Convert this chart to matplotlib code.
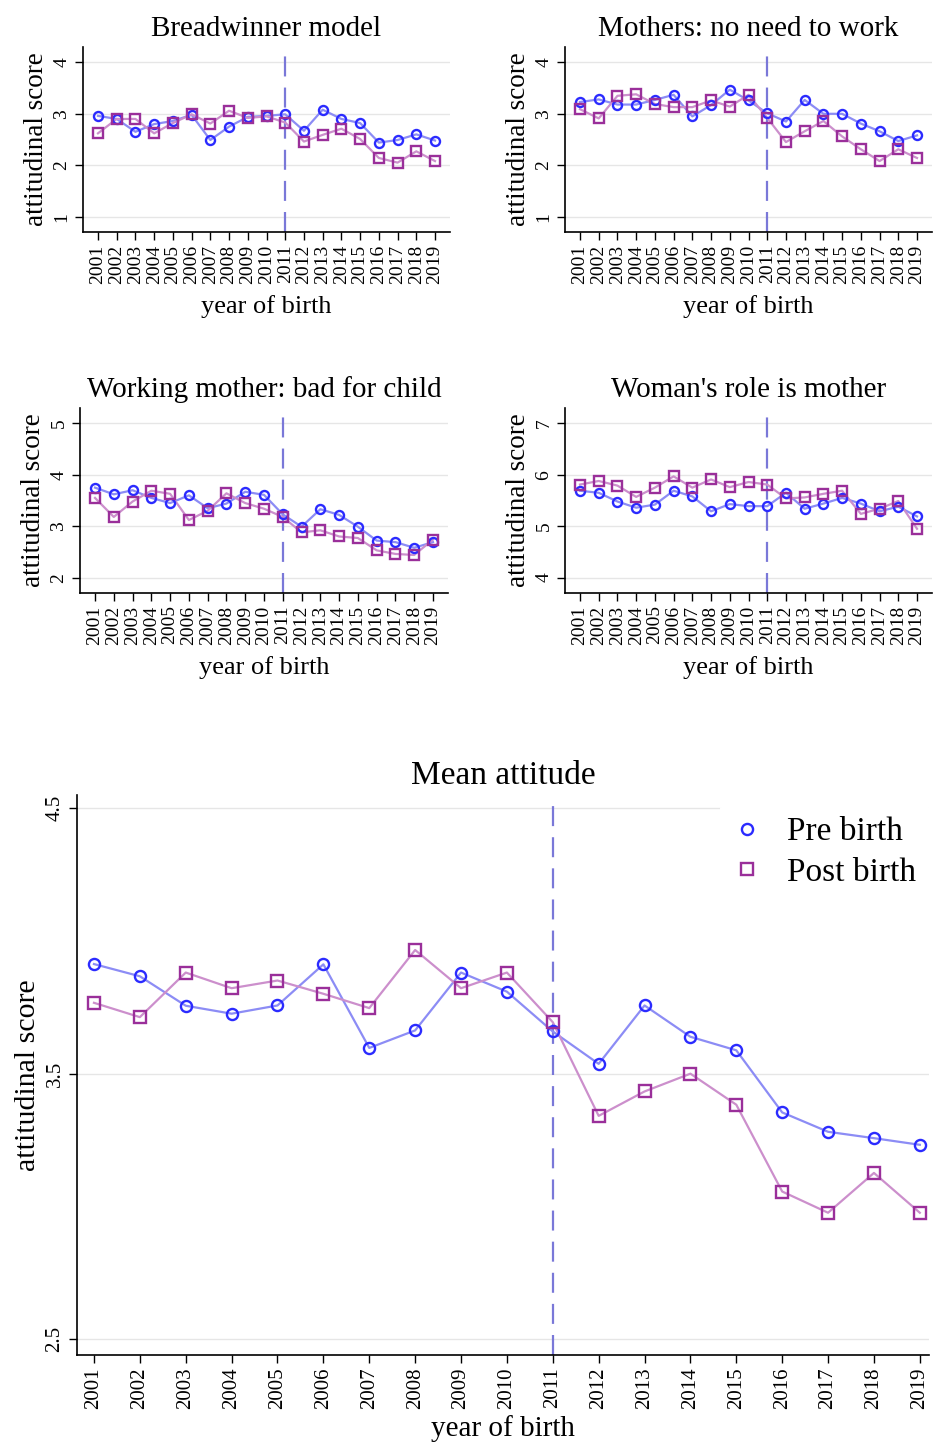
import matplotlib
matplotlib.use("Agg")
import matplotlib.pyplot as plt

plt.rcParams['font.family'] = ['Liberation Serif', 'DejaVu Serif']

years = list(range(2001, 2020))

# Breadwinner model
bw_pre = [2.96, 2.90, 2.65, 2.80, 2.86, 2.98, 2.49, 2.75, 2.94, 2.96,
          2.99, 2.67, 3.08, 2.90, 2.82, 2.44, 2.49, 2.60, 2.48]
bw_post = [2.62, 2.90, 2.90, 2.62, 2.82, 2.99, 2.81, 3.06, 2.92, 2.95,
           2.83, 2.46, 2.59, 2.71, 2.51, 2.14, 2.05, 2.27, 2.08]

# Mothers: no need to work
mn_pre = [3.23, 3.28, 3.18, 3.18, 3.27, 3.37, 2.95, 3.17, 3.47, 3.26,
          3.01, 2.85, 3.27, 3.00, 3.00, 2.81, 2.66, 2.47, 2.58]
mn_post = [3.09, 2.91, 3.35, 3.38, 3.19, 3.13, 3.13, 3.26, 3.14, 3.37,
           2.92, 2.45, 2.66, 2.86, 2.56, 2.31, 2.08, 2.31, 2.14]

# Working mother: bad for child
wm_pre = [3.75, 3.62, 3.70, 3.55, 3.45, 3.60, 3.35, 3.44, 3.67, 3.61,
          3.23, 2.99, 3.33, 3.22, 2.99, 2.72, 2.69, 2.58, 2.69]
wm_post = [3.55, 3.18, 3.48, 3.69, 3.63, 3.12, 3.30, 3.64, 3.45, 3.34,
           3.18, 2.88, 2.92, 2.80, 2.77, 2.53, 2.46, 2.44, 2.74]

# Woman's role is mother
wr_pre = [5.69, 5.65, 5.48, 5.36, 5.42, 5.69, 5.58, 5.29, 5.43, 5.39,
          5.39, 5.65, 5.34, 5.44, 5.55, 5.44, 5.29, 5.38, 5.19]
wr_post = [5.81, 5.88, 5.79, 5.57, 5.75, 5.97, 5.75, 5.91, 5.76, 5.86,
           5.81, 5.54, 5.56, 5.63, 5.69, 5.24, 5.34, 5.49, 4.95]

# Mean attitude
mean_pre = [3.913, 3.867, 3.756, 3.726, 3.757, 3.912, 3.597, 3.663, 3.881, 3.809,
            3.659, 3.537, 3.757, 3.639, 3.588, 3.354, 3.281, 3.257, 3.232]
mean_post = [3.767, 3.713, 3.881, 3.822, 3.851, 3.801, 3.747, 3.966, 3.822, 3.881,
             3.694, 3.341, 3.433, 3.500, 3.383, 3.056, 2.976, 3.126, 2.976]

W, H = 933, 1450
fig = plt.figure(figsize=(W / 100, H / 100), dpi=100)

PRE_C = '#2b2bff'
PRE_L = '#8c8cf5'
POST_C = '#9a2f9a'
POST_L = '#cc8fcc'
VLINE_C = '#7a78d8'


def box(l, t, r, b):
    return [l / W, 1 - b / H, (r - l) / W, (b - t) / H]


def draw(ax, pre, post, title, ylim, yticks, xlim, big=False):
    ms = 8 if big else 6.5
    ax.plot(years, pre, color=PRE_L, lw=1.6, zorder=2)
    ax.plot(years, post, color=POST_L, lw=1.6, zorder=2)
    ax.plot(years, pre, ls='none', marker='o', ms=ms, mfc='none',
            mec=PRE_C, mew=1.7, zorder=3, label='Pre birth')
    ax.plot(years, post, ls='none', marker='s', ms=ms, mfc='none',
            mec=POST_C, mew=1.7, zorder=3, label='Post birth')
    ax.axvline(2011, color=VLINE_C, lw=1.6, dashes=(9, 5), zorder=1)
    ax.set_xlim(*xlim)
    ax.set_ylim(*ylim)
    ax.set_yticks(yticks)
    ax.set_xticks(years)
    ax.grid(axis='y', color='#e6e6e6', lw=1)
    ax.set_axisbelow(True)
    for s in ['top', 'right']:
        ax.spines[s].set_visible(False)
    ax.spines['left'].set_linewidth(1.2)
    ax.spines['bottom'].set_linewidth(1.2)
    fs_tick = 15 if big else 14
    ax.set_xticklabels([str(y) for y in years], rotation=90, fontsize=fs_tick)
    ax.set_yticklabels([str(v) for v in yticks], rotation=90, va='center',
                       fontsize=fs_tick)
    ax.tick_params(length=6, width=1, pad=3)
    ax.set_title(title, fontsize=24 if big else 21, pad=8)
    ax.set_xlabel('year of birth', fontsize=21 if big else 19,
                  labelpad=4 if big else 8)
    ax.set_ylabel('attitudinal score', fontsize=21.5 if big else 19.5, labelpad=3)


small_x = (2000.2, 2019.8)

ax1 = fig.add_axes(box(83, 47, 450, 232))
draw(ax1, bw_pre, bw_post, 'Breadwinner model', (0.7, 4.3), [1, 2, 3, 4], small_x)

ax2 = fig.add_axes(box(565, 47, 932, 232))
draw(ax2, mn_pre, mn_post, 'Mothers: no need to work', (0.7, 4.3), [1, 2, 3, 4], small_x)

ax3 = fig.add_axes(box(80, 408, 448, 593))
draw(ax3, wm_pre, wm_post, 'Working mother: bad for child', (1.7, 5.3), [2, 3, 4, 5], small_x)

ax4 = fig.add_axes(box(565, 408, 932, 593))
draw(ax4, wr_pre, wr_post, "Woman's role is mother", (3.7, 7.3), [4, 5, 6, 7], small_x)

ax5 = fig.add_axes(box(77, 795, 929, 1355))
draw(ax5, mean_pre, mean_post, 'Mean attitude', (2.44, 4.55), [2.5, 3.5, 4.5],
     (2000.63, 2019.2), big=True)
leg = ax5.legend(loc='upper right', fontsize=24, frameon=True, framealpha=1,
                 edgecolor='white', handlelength=0.8, handletextpad=0.8,
                 labelspacing=0.3, borderaxespad=0.0,
                 bbox_to_anchor=(1.0, 0.985))
leg.set_zorder(5)

fig.savefig('out.png', dpi=100)
